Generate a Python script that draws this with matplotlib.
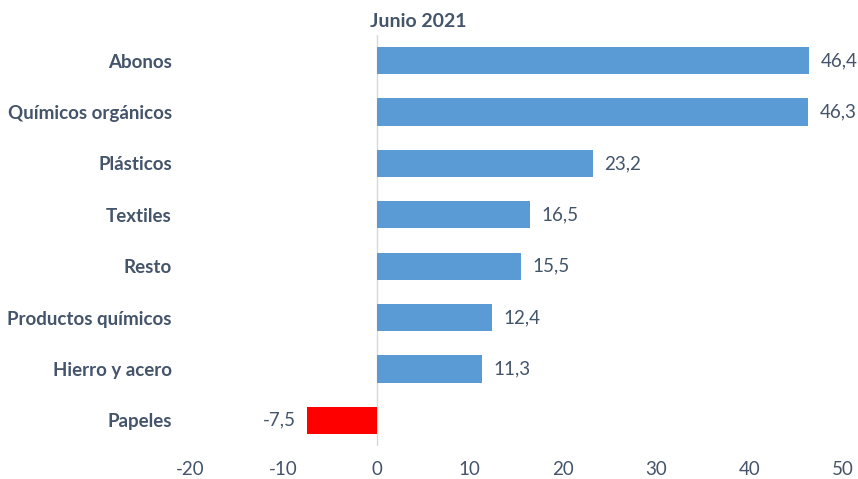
import matplotlib.pyplot as plt

categories = ["Abonos", "Químicos orgánicos", "Plásticos", "Textiles", "Resto",
              "Productos químicos", "Hierro y acero", "Papeles"]
values = [46.4, 46.3, 23.2, 16.5, 15.5, 12.4, 11.3, -7.5]
title = "Junio 2021"

plt.rcParams['font.family'] = ['Lato', 'DejaVu Sans']
plt.rcParams['axes.unicode_minus'] = False
txt = '#44546A'

fig = plt.figure(figsize=(8.58, 4.79), dpi=100)
ax = fig.add_axes([0.2214, 0.069, 0.7611, 0.858])
ypos = list(range(len(categories)))
colors = ['#FF0000' if v < 0 else '#5B9BD5' for v in values]
ax.barh(ypos, values, height=0.53, color=colors, zorder=2)
ax.set_ylim(len(categories) - 0.5, -0.5)
ax.set_xlim(-20, 50)
ax.set_xticks(range(-20, 51, 10))
ax.set_yticks(ypos)
ax.set_yticklabels(categories, fontweight='bold', fontsize=13.5, color=txt)
ax.tick_params(axis='y', length=0, pad=13)
ax.tick_params(axis='x', length=0, pad=11, labelsize=13.5, labelcolor=txt)
for s in ax.spines.values():
    s.set_visible(False)
ax.axvline(0, color='#D9D9D9', lw=1, zorder=1)

for y, v in zip(ypos, values):
    lab = f"{v:.1f}".replace('.', ',')
    if v >= 0:
        ax.annotate(lab, (v, y), xytext=(8, 0), textcoords='offset points',
                    ha='left', va='center', fontsize=13.5, color=txt)
    else:
        ax.annotate(lab, (v, y), xytext=(-8, 0), textcoords='offset points',
                    ha='right', va='center', fontsize=13.5, color=txt)

fig.text(0.487, 0.955, title, ha='center', va='center', fontsize=14,
         fontweight='bold', color=txt)
fig.savefig('out.png', dpi=100)
